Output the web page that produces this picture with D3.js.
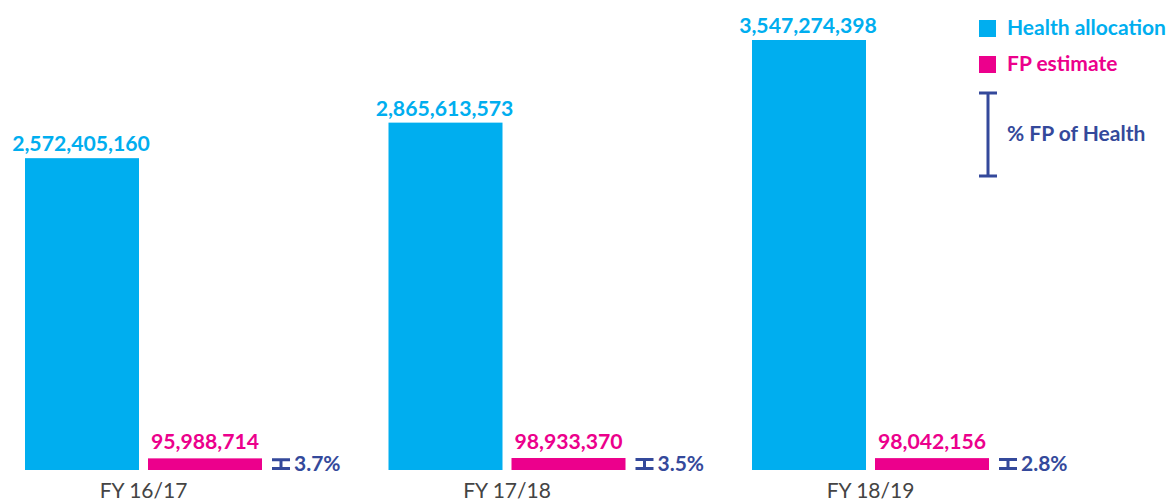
<!DOCTYPE html>
<html>
<head>
<meta charset="utf-8">
<script src="https://cdn.jsdelivr.net/npm/d3@7"></script>
<style>
  body { margin: 0; background: #fff; }
  text { font-family: Lato, "Open Sans", sans-serif; }
</style>
</head>
<body>
<div class="chart"></div>
<script>
// data
const years = ['FY 16/17', 'FY 17/18', 'FY 18/19'];
const healthAllocation = [2572405160, 2865613573, 3547274398];
const fpEstimate = [95988714, 98933370, 98042156];
const pctLabels = ['3.7%', '3.5%', '2.8%'];

const width = 1171;
const height = 503;
const blue = '#00aeef';
const pink = '#ec008c';
const navy = '#34499b';
const barW = 114;
const gap = 9;

const svg = d3.select('.chart').append('svg')
  .attr('width', width)
  .attr('height', height);

const x = d3.scalePoint().domain(years).range([143.5, 870.5]);
const y = d3.scaleLinear().domain([0, d3.max(healthAllocation)]).range([470, 40]);
const fmt = d3.format(',');

const groups = svg.selectAll('g.year')
  .data(years)
  .enter()
  .append('g')
  .attr('class', 'year')
  .attr('transform', d => `translate(${x(d)},0)`);

// health bars
groups.append('rect')
  .attr('x', -gap / 2 - barW)
  .attr('width', barW)
  .attr('y', (d, i) => y(healthAllocation[i]))
  .attr('height', (d, i) => y(0) - y(healthAllocation[i]))
  .attr('fill', blue);

groups.append('text')
  .attr('x', -gap / 2 - barW / 2 - 1)
  .attr('y', (d, i) => y(healthAllocation[i]) - 7)
  .attr('text-anchor', 'middle')
  .attr('font-size', 21.2)
  .attr('font-weight', 700)
  .attr('fill', blue)
  .text((d, i) => fmt(healthAllocation[i]));

// fp bars
groups.append('rect')
  .attr('x', gap / 2)
  .attr('width', barW)
  .attr('y', (d, i) => y(fpEstimate[i]))
  .attr('height', (d, i) => y(0) - y(fpEstimate[i]))
  .attr('fill', pink);

groups.append('text')
  .attr('x', gap / 2 + barW / 2)
  .attr('y', (d, i) => y(fpEstimate[i]) - 9)
  .attr('text-anchor', 'middle')
  .attr('font-size', 21.2)
  .attr('font-weight', 700)
  .attr('fill', pink)
  .text((d, i) => fmt(fpEstimate[i]));

// percent error-bar markers
const ex = gap / 2 + barW + 19;
groups.each(function(d, i) {
  const g = d3.select(this);
  const top = y(fpEstimate[i]) + 1.5;
  const bot = y(0) - 1.5;
  g.append('path')
    .attr('d', `M${ex - 9},${top}H${ex + 9}M${ex},${top}V${bot}M${ex - 9},${bot}H${ex + 9}`)
    .attr('stroke', navy)
    .attr('stroke-width', 3)
    .attr('fill', 'none');
});

groups.append('text')
  .attr('x', ex + 13)
  .attr('y', 471)
  .attr('font-size', 21)
  .attr('font-weight', 700)
  .attr('fill', navy)
  .text((d, i) => pctLabels[i]);

// x labels
groups.append('text')
  .attr('y', 498)
  .attr('text-anchor', 'middle')
  .attr('font-size', 21)
  .attr('fill', '#444')
  .text(d => d);

// legend
const legend = svg.append('g').attr('transform', 'translate(979,0)');
legend.append('rect').attr('x', 0).attr('y', 20).attr('width', 17).attr('height', 17).attr('fill', blue);
legend.append('text').attr('x', 28).attr('y', 35).attr('font-size', 21).attr('font-weight', 700)
  .attr('fill', blue).text('Health allocation');
legend.append('rect').attr('x', 0).attr('y', 56).attr('width', 17).attr('height', 17).attr('fill', pink);
legend.append('text').attr('x', 28).attr('y', 71).attr('font-size', 21).attr('font-weight', 700)
  .attr('fill', pink).text('FP estimate');
legend.append('path')
  .attr('d', 'M0,93H18M9,93V176M0,176H18')
  .attr('stroke', navy).attr('stroke-width', 3).attr('fill', 'none');
legend.append('text').attr('x', 28).attr('y', 141).attr('font-size', 21).attr('font-weight', 700)
  .attr('fill', navy).text('% FP of Health');
</script>
</body>
</html>
